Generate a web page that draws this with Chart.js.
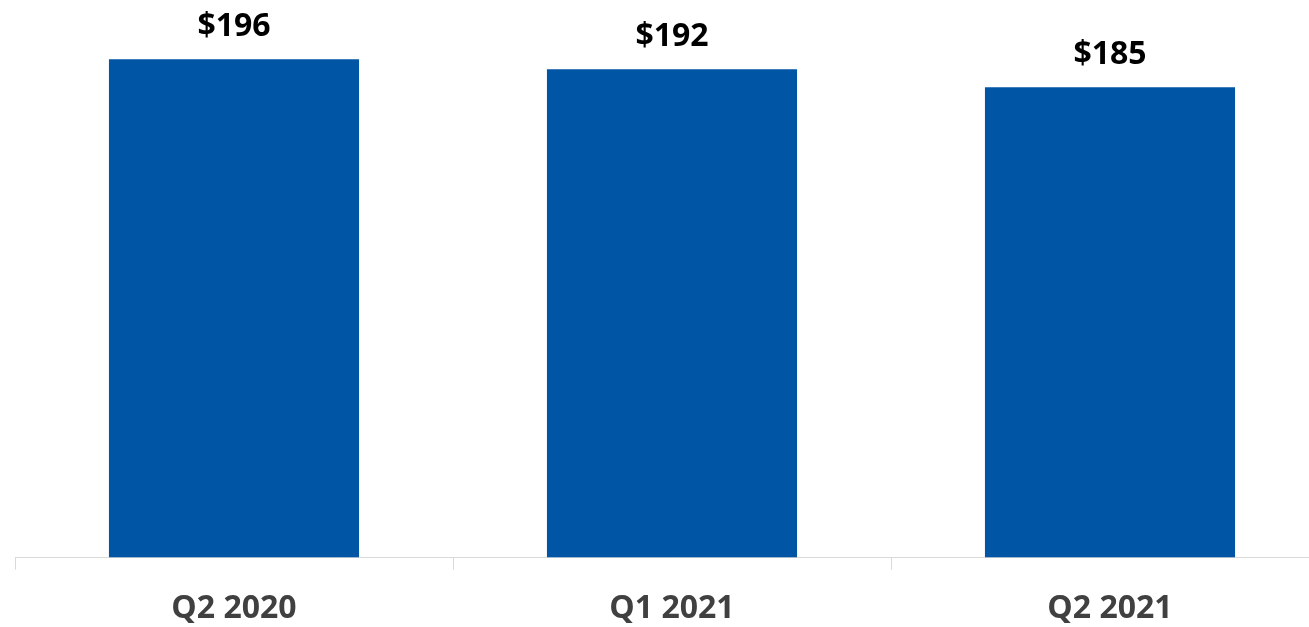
<!DOCTYPE html>
<html>
<head>
<meta charset="utf-8">
<script src="https://cdn.jsdelivr.net/npm/chart.js@4"></script>
<style>
  html, body { margin: 0; padding: 0; background: #fff; overflow: hidden; }
  #wrap { width: 1340px; height: 648px; }
</style>
</head>
<body>
<div id="wrap"><canvas id="costChart"></canvas></div>
<script>
// Chart data
const quarters = ['Q2 2020', 'Q1 2021', 'Q2 2021'];
const values = [196, 192, 185];
const valueLabels = ['$196', '$192', '$185'];

// Draws the value labels above each bar
const barLabels = {
    id: 'barLabels',
    afterDatasetsDraw(chart) {
        const ctx = chart.ctx;
        const meta = chart.getDatasetMeta(0);
        ctx.save();
        ctx.font = 'bold 32px "Open Sans"';
        ctx.fillStyle = '#000000';
        ctx.textAlign = 'center';
        ctx.textBaseline = 'middle';
        meta.data.forEach((bar, i) => {
            ctx.fillText(valueLabels[i], bar.x, bar.y - 32);
        });
        ctx.restore();
    }
};

const ctx = document.getElementById('costChart').getContext('2d');
new Chart(ctx, {
    type: 'bar',
    data: {
        labels: quarters,
        datasets: [{
            data: values,
            backgroundColor: '#0055A4',
            barPercentage: 1,
            categoryPercentage: 0.571
        }]
    },
    options: {
        responsive: true,
        maintainAspectRatio: false,
        animation: false,
        layout: {
            padding: { top: 49, left: 15, right: 11, bottom: 0 }
        },
        plugins: {
            legend: { display: false },
            tooltip: { enabled: false }
        },
        scales: {
            y: {
                display: false,
                min: 0,
                max: 200
            },
            x: {
                grid: {
                    drawOnChartArea: false,
                    drawTicks: true,
                    tickLength: 12,
                    color: '#d9d9d9'
                },
                border: { color: '#d9d9d9', width: 1 },
                ticks: {
                    color: '#404040',
                    padding: 20,
                    font: { family: 'Open Sans', size: 32, weight: 'bold' }
                }
            }
        }
    },
    plugins: [barLabels]
});
</script>
</body>
</html>
